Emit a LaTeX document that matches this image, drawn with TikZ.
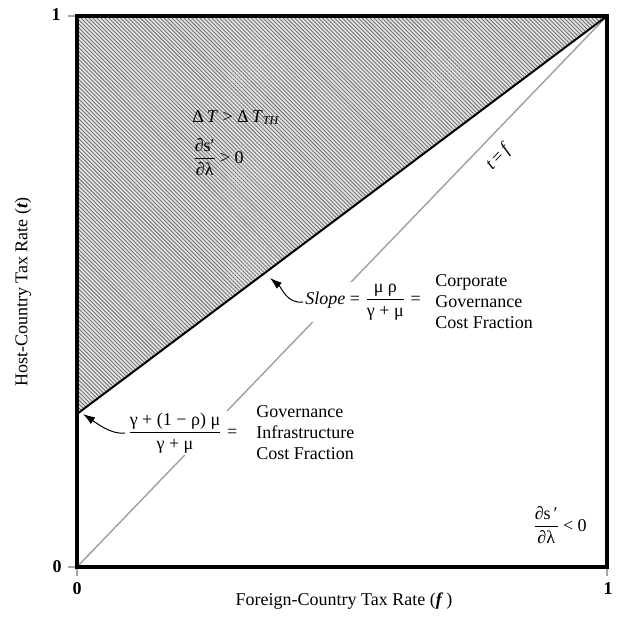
\documentclass[tikz,border=0pt]{standalone}
\usepackage{amsmath}
\usepackage{fontspec}
\setmainfont{Liberation Serif}
\usetikzlibrary{arrows.meta,patterns.meta,positioning}

\newcommand{\pfrac}[2]{$\dfrac{\text{#1}}{\text{#2}}$}

\begin{document}
\begin{tikzpicture}[x=0.5pt, y=-0.5pt, >={Latex[length=6pt,width=4pt]},
  every node/.style={font=\fontsize{9}{10.5}\selectfont, inner sep=1pt},
  frame/.style={line width=2pt},
  tick/.style={gray!70, line width=0.6pt},
  diag/.style={gray!75, line width=0.7pt},
  bound/.style={line width=1pt},
  pointer/.style={->, line width=0.5pt},
  hatch/.style={preaction={fill=gray!20}, pattern={Lines[angle=-45,distance=1.4pt,line width=0.45pt]}, pattern color=black!55},
  numlab/.style={font=\fontsize{9}{10.5}\selectfont\bfseries}]
\useasboundingbox (0,0) rectangle (617,630);

% corners of the unit square
\coordinate (O) at (77,567);
\coordinate (X1) at (607,567);
\coordinate (Y1) at (77,16);
\coordinate (C) at (607,16);
\coordinate (I) at (77,414);

% region above the boundary line
\fill[hatch] (I) -- (C) -- (Y1) -- cycle;

% 45 degree line
\draw[diag] (O) -- (C);

% ticks
\draw[tick] (68,16) -- (Y1);
\draw[tick] (68,567) -- (O);
\draw[tick] (O) -- (77,576);
\draw[tick] (X1) -- (607,576);

% frame and boundary
\draw[frame] (Y1) rectangle (X1);
\draw[bound] (I) -- (C);

% axis numbers
\node[numlab] (y1) at (56,15) {1};
\node[numlab] (y0) at (57,567) {0};
\node[numlab] (x0) at (77,589) {0};
\node[numlab] (x1) at (608,589) {1};

% axis titles
\node[rotate=90] (ylab) at (23,292) {Host-Country Tax Rate (\textbf{\textit{t}})};
\node (xlab) at (344,601) {Foreign-Country Tax Rate (\textbf{\textit{f}}\,)};

% texts in the regions
\node[anchor=base west] (dT) at (190,123) {Δ\,\textit{T} > Δ\,\textit{T}\textsubscript{\textit{TH}}};
\node[anchor=west] (dpos) at (190,157) {\pfrac{∂s′}{∂λ}\,> 0};
\node[anchor=west] (dneg) at (530,525) {\pfrac{∂s\,′}{∂λ}\,< 0};
\node[rotate=46, inner sep=0pt] (tf) at (499,157) {\textit{t}\,=\,\textit{f}};

% slope label
\node[anchor=west, fill=white] (slope) at (303,302) {\textit{Slope} = \pfrac{μ ρ}{γ + μ} =};
\node[anchor=west, align=left] (corp) at (433,302) {Corporate\\Governance\\Cost Fraction};
\coordinate (sTip) at (270,278);
\draw[pointer] (slope.west) .. controls +(-16,2) and +(12,10) .. (sTip);

% intercept label
\node[anchor=west, fill=white] (icpt) at (125,433) {\pfrac{γ + (1 − ρ) μ}{γ + μ} =};
\node[anchor=west, align=left] (gov) at (254,433) {Governance\\Infrastructure\\Cost Fraction};
\coordinate (iTip) at (83,414);
\draw[pointer] (icpt.west) .. controls +(-14,2) and +(12,8) .. (iTip);
\end{tikzpicture}
\end{document}
